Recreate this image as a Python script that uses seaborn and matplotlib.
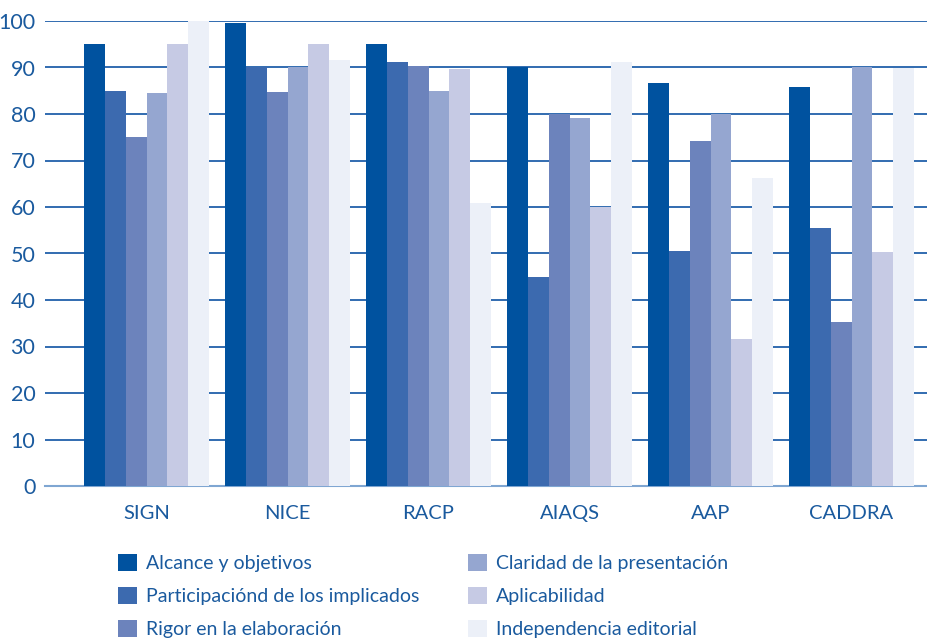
import matplotlib
matplotlib.use("Agg")
import matplotlib.pyplot as plt
import seaborn as sns
import pandas as pd
from matplotlib.patches import Patch
from matplotlib.ticker import FixedLocator

categories = ["SIGN", "NICE", "RACP", "AIAQS", "AAP", "CADDRA"]
series_names = [
    "Alcance y objetivos",
    "Participaciónd de los implicados",
    "Rigor en la elaboración",
    "Claridad de la presentación",
    "Aplicabilidad",
    "Independencia editorial",
]
alcance = [95, 99.5, 95, 90, 86.7, 85.9]
participacion = [85, 90, 91.2, 45, 50.5, 55.4]
rigor = [75, 84.8, 90.4, 80, 74.3, 35.3]
claridad = [84.6, 90.2, 85, 79.2, 80, 90.2]
aplicabilidad = [95, 95, 89.6, 60, 31.6, 50.3]
independencia = [100, 91.6, 60.8, 91.2, 66.2, 89.8]
yticks = [0, 10, 20, 30, 40, 50, 60, 70, 80, 90, 100]

colors = ["#00529F", "#3C6AAF", "#6C83BC", "#95A6D0", "#C6CAE4", "#ECF0F8"]
text_color = "#1A5A9E"

all_values = [alcance, participacion, rigor, claridad, aplicabilidad, independencia]
rows = []
for name, vals in zip(series_names, all_values):
    for cat, v in zip(categories, vals):
        rows.append({"Grupo": cat, "Serie": name, "Valor": v})
df = pd.DataFrame(rows)

sns.set_style("white")
plt.rcParams["font.family"] = ["Lato", "DejaVu Sans"]

fig = plt.figure(figsize=(9.27, 6.38), dpi=100)
ax = fig.add_axes([45 / 927, 1 - 486 / 638, 1 - 45 / 927, (486 - 21) / 638])

sns.barplot(data=df, x="Grupo", y="Valor", hue="Serie", order=categories,
            hue_order=series_names, palette=colors, width=0.89, gap=0,
            saturation=1, linewidth=0, ax=ax, legend=False, zorder=3)

ax.set_xlim(-0.72, 5.535)
ax.set_ylim(0, 100)
ax.set_yticks(yticks)
ax.set_yticklabels([str(t) for t in yticks], fontsize=15.5, color=text_color)
ax.yaxis.grid(True, color="#2160AA", linewidth=1.3, zorder=0)
ax.set_axisbelow(True)
ax.tick_params(axis="y", length=0, pad=7)

ax.tick_params(axis="x", which="major", length=0, pad=14, labelsize=14.5,
               labelcolor=text_color)
ax.xaxis.set_minor_locator(FixedLocator([i - 0.5 for i in range(len(categories) + 1)]))
ax.tick_params(axis="x", which="minor", length=11, width=1.5, color="#2160AA",
               direction="out")
ax.set_xlabel("")
ax.set_ylabel("")

for s in ["top", "right", "left"]:
    ax.spines[s].set_visible(False)
ax.spines["bottom"].set_color("#7FA6D2")
ax.spines["bottom"].set_linewidth(1.5)

handles = [Patch(facecolor=c, edgecolor="none") for c in colors]
fig.legend(handles, series_names, ncol=2, loc="upper left",
           bbox_to_anchor=(110 / 927, 1 - 546 / 638), frameon=False,
           fontsize=14, labelcolor=text_color, handlelength=1.0,
           handleheight=1.0, handletextpad=0.45, columnspacing=2.5,
           labelspacing=0.75, borderaxespad=0)

fig.savefig("out.png", dpi=100)
